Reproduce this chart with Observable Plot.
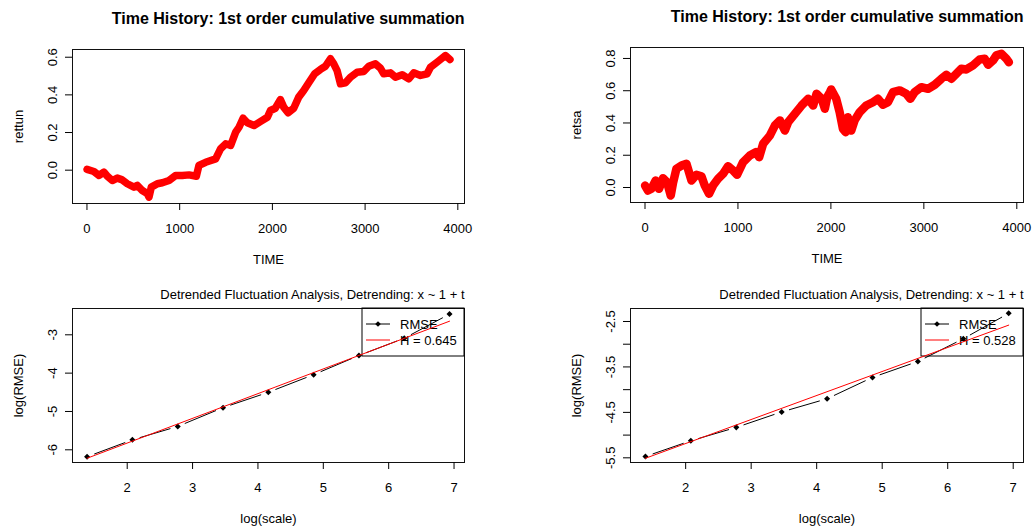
<!DOCTYPE html>
<html><head><meta charset="utf-8">
<script src="https://cdn.jsdelivr.net/npm/d3@7"></script>
<script src="https://cdn.jsdelivr.net/npm/@observablehq/plot@0.6"></script>
<style>
html,body{margin:0;padding:0;background:#fff;}
#wrap{position:relative;width:1034px;height:529px;overflow:hidden;background:#fff;}
.panel{position:absolute;}
</style></head><body><div id="wrap"></div>
<script>
// ---------- data ----------
const timeTitle = "Time History: 1st order cumulative summation";
const dfaTitle = "Detrended Fluctuation Analysis, Detrending: x ~ 1 + t";

const time1 = [1, 75, 130, 183, 219, 273, 327, 374, 435, 507, 543, 597, 651, 669, 694, 759, 813, 885, 956, 1028, 1101, 1180, 1208, 1280, 1388, 1442, 1496, 1550, 1604, 1640, 1684, 1730, 1802, 1874, 1946, 1979, 2032, 2086, 2122, 2169, 2230, 2284, 2338, 2392, 2456, 2518, 2572, 2626, 2662, 2698, 2734, 2788, 2842, 2914, 2985, 3039, 3111, 3165, 3201, 3273, 3327, 3400, 3471, 3525, 3597, 3669, 3705, 3777, 3831, 3867, 3915];
const rettun = [0.004, -0.007, -0.028, -0.01, -0.032, -0.055, -0.042, -0.05, -0.072, -0.09, -0.081, -0.108, -0.125, -0.143, -0.09, -0.072, -0.067, -0.055, -0.028, -0.028, -0.025, -0.032, 0.025, 0.042, 0.06, 0.114, 0.14, 0.131, 0.202, 0.228, 0.276, 0.252, 0.237, 0.259, 0.281, 0.317, 0.329, 0.375, 0.335, 0.305, 0.329, 0.388, 0.423, 0.464, 0.512, 0.535, 0.552, 0.592, 0.565, 0.529, 0.459, 0.464, 0.494, 0.52, 0.524, 0.552, 0.565, 0.542, 0.512, 0.517, 0.494, 0.507, 0.485, 0.517, 0.503, 0.512, 0.547, 0.574, 0.595, 0.609, 0.588];

const time2 = [1, 32, 69, 115, 151, 194, 237, 277, 302, 338, 392, 446, 500, 553, 607, 643, 689, 732, 786, 840, 894, 948, 991, 1055, 1128, 1192, 1228, 1271, 1343, 1397, 1451, 1505, 1540, 1612, 1684, 1756, 1809, 1846, 1900, 1935, 1960, 1989, 2003, 2057, 2094, 2129, 2158, 2183, 2219, 2255, 2309, 2380, 2452, 2506, 2560, 2614, 2668, 2740, 2811, 2854, 2901, 2973, 3045, 3117, 3188, 3242, 3296, 3350, 3403, 3457, 3529, 3601, 3655, 3691, 3745, 3780, 3834, 3888, 3915];
const retsa = [0.012, -0.019, -0.008, 0.043, -0.008, 0.058, 0.033, -0.05, 0.029, 0.116, 0.136, 0.147, 0.043, 0.079, 0.07, 0.012, -0.039, 0.012, 0.054, 0.085, 0.132, 0.105, 0.079, 0.157, 0.198, 0.219, 0.188, 0.271, 0.322, 0.384, 0.416, 0.353, 0.405, 0.457, 0.508, 0.55, 0.508, 0.581, 0.55, 0.488, 0.56, 0.59, 0.608, 0.55, 0.467, 0.364, 0.343, 0.436, 0.353, 0.416, 0.467, 0.508, 0.529, 0.55, 0.513, 0.529, 0.591, 0.602, 0.581, 0.55, 0.591, 0.622, 0.612, 0.637, 0.674, 0.699, 0.674, 0.705, 0.736, 0.732, 0.757, 0.794, 0.798, 0.761, 0.788, 0.819, 0.829, 0.798, 0.777];

const logScale = [1.386, 2.079, 2.773, 3.466, 4.159, 4.852, 5.545, 6.238, 6.931];
const logRmse1 = [-6.18, -5.74, -5.39, -4.90, -4.50, -4.04, -3.54, -3.09, -2.46];
const logRmse2 = [-5.47, -5.125, -4.83, -4.49, -4.20, -3.73, -3.38, -2.88, -2.32];
const fitX = [1.386, 6.931];
const fitY1 = [-6.22, -2.645];
const fitY2 = [-5.51, -2.58];
const legendRmse = "RMSE";
const hurst1 = "H = 0.645";
const hurst2 = "H = 0.528";

const timeTicks = [0, 1000, 2000, 3000, 4000];
const rettunTicks = [0, 0.2, 0.4, 0.6];
const retsaTicks = [0, 0.2, 0.4, 0.6, 0.8];
const scaleTicks = [2, 3, 4, 5, 6, 7];
const rmseTicks1 = [-6, -5, -4, -3];
const rmseTicks2 = [-5.5, -5, -4.5, -4, -3.5, -3, -2.5];
const rmseLabels2 = [-5.5, -4.5, -3.5, -2.5];

// ---------- helpers ----------
const FONT = "'Liberation Sans', Arial, Helvetica, sans-serif";
const wrap = document.getElementById("wrap");

function legendMark(hText) {
  return (index, scales, values, dim) => {
    const w = 102, h = 48;
    const x0 = dim.width - dim.marginRight - w, y0 = dim.marginTop;
    const g = d3.create("svg:g").attr("font-size", 13).attr("font-family", FONT).attr("text-anchor", "start");
    g.append("rect").attr("x", x0).attr("y", y0).attr("width", w).attr("height", h)
      .attr("fill", "none").attr("stroke", "black");
    g.append("line").attr("x1", x0 + 4).attr("x2", x0 + 28).attr("y1", y0 + 16).attr("y2", y0 + 16).attr("stroke", "black");
    g.append("rect").attr("x", -2).attr("y", -2).attr("width", 4).attr("height", 4)
      .attr("transform", `translate(${x0 + 16},${y0 + 16}) rotate(45)`).attr("fill", "black");
    g.append("text").attr("x", x0 + 38).attr("y", y0 + 16).attr("dy", "0.35em").attr("text-anchor", "start").text(legendRmse);
    g.append("line").attr("x1", x0 + 4).attr("x2", x0 + 28).attr("y1", y0 + 32).attr("y2", y0 + 32).attr("stroke", "red");
    g.append("text").attr("x", x0 + 38).attr("y", y0 + 32).attr("dy", "0.35em").attr("text-anchor", "start").text(hText);
    return g.node();
  };
}

function panel(o) {
  const marks = [
    Plot.frame({stroke: "#111", strokeWidth: 1}),
    Plot.axisX({ticks: o.xTicks, tickSize: 7, tickPadding: 13, fontSize: 13, tickFormat: d => String(d), label: null}),
    Plot.axisY({ticks: o.yTicks, tickSize: 7, tickPadding: 9, fontSize: 13, tickRotate: -90, textAnchor: "middle", lineAnchor: "bottom", tickFormat: o.yFormat, label: null}),
    ...o.marks,
    Plot.text([o.title], {text: d => d, frameAnchor: "top-right", textAnchor: "end", lineAnchor: "middle", dy: o.titleDy, fontWeight: o.titleBold ? "bold" : "normal", fontSize: o.titleSize, fill: "black"}),
    Plot.text([o.xLabel], {text: d => d, frameAnchor: "bottom", lineAnchor: "middle", dy: 56, fontSize: 13, fill: "black"}),
    Plot.text([o.yLabel], {text: d => d, frameAnchor: "left", rotate: -90, lineAnchor: "middle", textAnchor: "middle", dx: -54, fontSize: 13, fill: "black"})
  ];
  const svg = Plot.plot({
    width: o.width, height: o.height,
    marginTop: o.m[0], marginRight: o.m[1], marginBottom: o.m[2], marginLeft: o.m[3],
    x: {domain: o.xDomain, nice: false},
    y: {domain: o.yDomain, nice: false},
    style: {fontFamily: FONT, fontSize: "13px", background: "transparent", color: "black", overflow: "visible"},
    marks
  });
  const div = document.createElement("div");
  div.className = "panel";
  div.style.left = o.left + "px";
  div.style.top = o.top + "px";
  div.appendChild(svg);
  wrap.appendChild(div);
}

function series(t, v) { return t.map((d, i) => ({t: d, v: v[i]})); }
function pts(x, y) { return x.map((d, i) => ({x: d, y: y[i]})); }
function segs(x, y) { return x.slice(1).map((d, i) => ({x1: x[i], y1: y[i], x2: d, y2: y[i + 1]})); }

function dfaMarks(y, fitY, hText) {
  return [
    legendMark(hText),
    Plot.arrow(segs(logScale, y), {x1: "x1", y1: "y1", x2: "x2", y2: "y2", headLength: 0, inset: 8, stroke: "black", strokeWidth: 1}),
    Plot.dot(pts(logScale, y), {x: "x", y: "y", symbol: "square", rotate: 45, r: 2.4, fill: "black", stroke: null}),
    Plot.line(pts(fitX, fitY), {x: "x", y: "y", stroke: "red", strokeWidth: 1})
  ];
}

// ---------- panels ----------
panel({left: 0, top: 0, width: 517, height: 270, m: [49, 53, 67, 72],
  xDomain: [-156, 4072], yDomain: [-0.177, 0.641],
  xTicks: timeTicks, yTicks: rettunTicks, yFormat: d => d.toFixed(1),
  title: timeTitle, titleBold: true, titleSize: 16, titleDy: -31,
  xLabel: "TIME", yLabel: "rettun",
  marks: [Plot.line(series(time1, rettun), {x: "t", y: "v", stroke: "#ff0000", strokeWidth: 7.5, strokeLinejoin: "round", strokeLinecap: "round"})]
});
panel({left: 517, top: 0, width: 517, height: 270, m: [47, 11, 68, 113],
  xDomain: [-156, 4072], yDomain: [-0.093, 0.868],
  xTicks: timeTicks, yTicks: retsaTicks, yFormat: d => d.toFixed(1),
  title: timeTitle, titleBold: true, titleSize: 16, titleDy: -31,
  xLabel: "TIME", yLabel: "retsa",
  marks: [Plot.line(series(time2, retsa), {x: "t", y: "v", stroke: "#ff0000", strokeWidth: 8.5, strokeLinejoin: "round", strokeLinecap: "round"})]
});
panel({left: 0, top: 270, width: 517, height: 259, m: [38, 53, 67, 72],
  xDomain: [1.163, 7.16], yDomain: [-6.331, -2.314],
  xTicks: scaleTicks, yTicks: rmseTicks1, yFormat: d => String(d),
  title: dfaTitle, titleBold: false, titleSize: 13, titleDy: -14,
  xLabel: "log(scale)", yLabel: "log(RMSE)",
  marks: dfaMarks(logRmse1, fitY1, hurst1)
});
panel({left: 517, top: 270, width: 517, height: 259, m: [38, 11, 67, 113],
  xDomain: [1.158, 7.157], yDomain: [-5.603, -2.214],
  xTicks: scaleTicks, yTicks: rmseTicks2, yFormat: d => rmseLabels2.includes(d) ? d.toFixed(1) : "",
  title: dfaTitle, titleBold: false, titleSize: 13, titleDy: -14,
  xLabel: "log(scale)", yLabel: "log(RMSE)",
  marks: dfaMarks(logRmse2, fitY2, hurst2)
});
</script></body></html>
